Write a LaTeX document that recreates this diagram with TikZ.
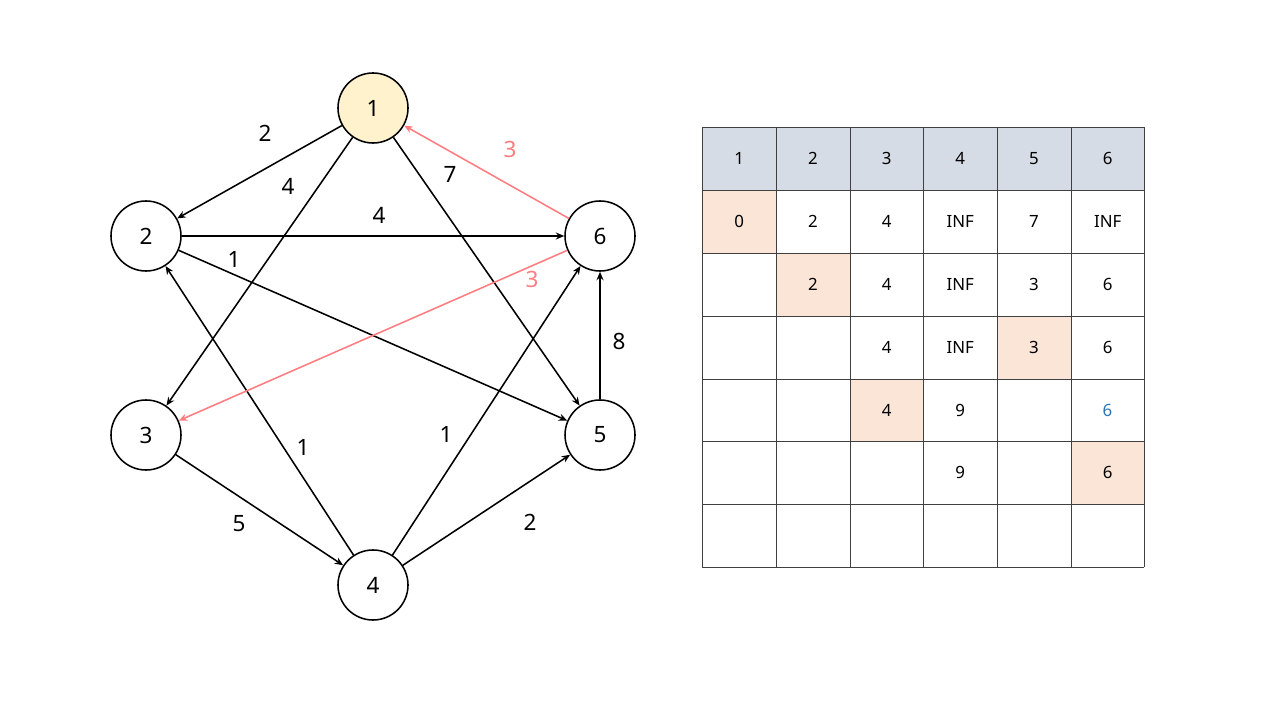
\documentclass[tikz,border=0pt]{standalone}
\usepackage{fontspec}
\setmainfont{Noto Sans}
\usepackage{tikz}
\usetikzlibrary{arrows.meta}
\definecolor{visit}{RGB}{255,242,204}
\definecolor{relax}{RGB}{255,124,128}
\definecolor{head}{RGB}{214,220,229}
\definecolor{pick}{RGB}{251,229,214}
\definecolor{upd}{RGB}{46,117,182}

\begin{document}
\begin{tikzpicture}[x=0.025cm,y=-0.025cm,>={Stealth[length=6pt,width=5pt]},line width=1.1pt]
\useasboundingbox (0,0) rectangle (1280,720);
\tikzset{vert/.style={draw,circle,minimum size=1.75cm,inner sep=0pt,font=\fontsize{16}{16}\selectfont},
  wt/.style={font=\fontsize{16}{16}\selectfont},
  cell/.style={font=\fontsize{12}{12}\selectfont}}
% graph
\node[vert,fill=visit] (v1) at (373,108) {1};
\node[vert] (v2) at (146,236) {2};
\node[vert] (v6) at (600,236) {6};
\node[vert] (v3) at (146,435) {3};
\node[vert] (v5) at (600,435) {5};
\node[vert] (v4) at (373,585) {4};
\draw[->] (v1)--(v2);
\draw[->] (v1)--(v3);
\draw[->] (v1)--(v5);
\draw[->] (v2)--(v6);
\draw[->] (v2)--(v5);
\draw[->] (v5)--(v6);
\draw[->] (v4)--(v2);
\draw[->] (v4)--(v6);
\draw[->] (v3)--(v4);
\draw[->] (v4)--(v5);
\draw[->,relax] (v6)--(v1);
\draw[->,relax] (v6)--(v3);
\node[wt] (w12) at (265,133) {2};
\node[wt] (w13) at (288,186) {4};
\node[wt] (w15) at (450,174) {7};
\node[wt,text=relax] (w61) at (510,149) {3};
\node[wt] (w26) at (379,215) {4};
\node[wt] (w25) at (234,259) {1};
\node[wt,text=relax] (w63) at (532,279) {3};
\node[wt] (w56) at (619,341) {8};
\node[wt] (w42) at (303,447) {1};
\node[wt] (w46) at (446,434) {1};
\node[wt] (w34) at (239,524) {5};
\node[wt] (w45) at (530,522) {2};
% distance table
\fill[head] (702,127) rectangle (1144,190);
\fill[pick] (702,190) rectangle (776,253);
\fill[pick] (776,253) rectangle (850,316);
\fill[pick] (997,316) rectangle (1071,379);
\fill[pick] (850,379) rectangle (923,441);
\fill[pick] (1071,441) rectangle (1144,504);
\foreach \x in {702,776,850,923,997,1071,1144}
  \draw[black!75,line width=0.6pt] (\x,127)--(\x,567);
\foreach \y in {127,190,253,316,379,441,504,567}
  \draw[black!75,line width=0.6pt] (702,\y)--(1144,\y);
\foreach \t [count=\i] in {1,2,3,4,5,6}
  \node[cell] (h\i) at (665.5+73.7*\i,158.5) {\t};
\foreach \t [count=\i] in {0,2,4,INF,7,INF}
  \node[cell] (a\i) at (665.5+73.7*\i,221.5) {\t};
\foreach \t [count=\i] in {,2,4,INF,3,6}
  \node[cell] (b\i) at (665.5+73.7*\i,284.5) {\t};
\foreach \t [count=\i] in {,,4,INF,3,6}
  \node[cell] (c\i) at (665.5+73.7*\i,347.5) {\t};
\foreach \t [count=\i] in {,,4,9,,}
  \node[cell] (d\i) at (665.5+73.7*\i,410) {\t};
\node[cell,text=upd] (d6b) at (1107.5,410) {6};
\foreach \t [count=\i] in {,,,9,,6}
  \node[cell] (e\i) at (665.5+73.7*\i,472.5) {\t};
\end{tikzpicture}
\end{document}
